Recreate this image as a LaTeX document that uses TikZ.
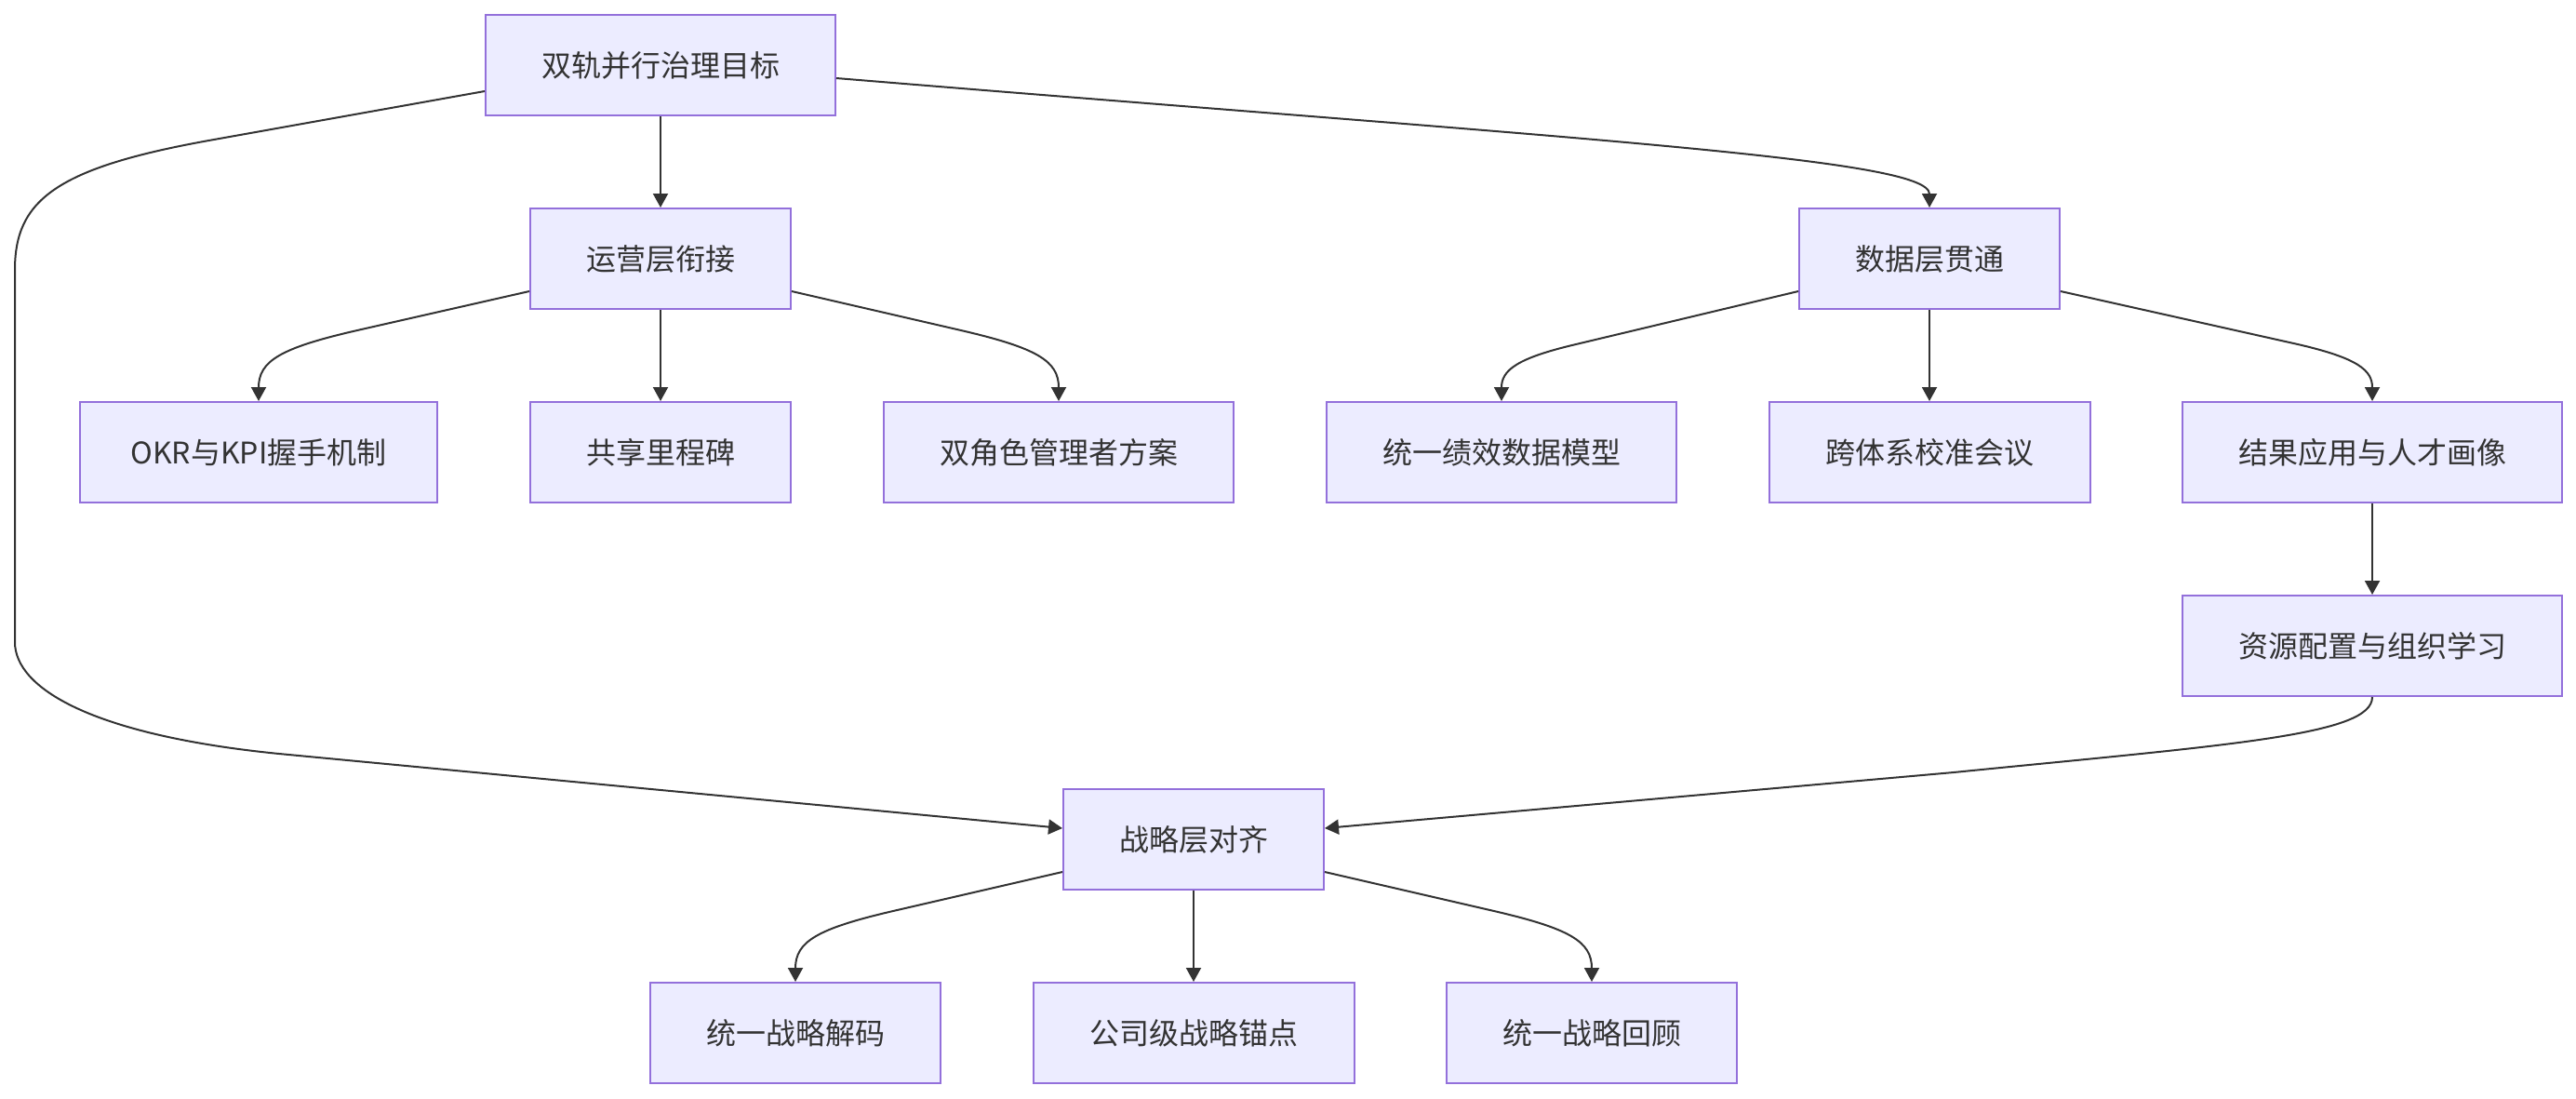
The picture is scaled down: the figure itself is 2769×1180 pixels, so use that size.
\documentclass[tikz,border=0pt]{standalone}
\usepackage{fontspec}
\setmainfont{Noto Sans CJK SC}
\usetikzlibrary{arrows.meta,calc}
\definecolor{boxfill}{HTML}{ECECFF}
\definecolor{boxline}{HTML}{9370DB}
\definecolor{ink}{HTML}{333333}
\tikzset{
  box/.style={draw=boxline, fill=boxfill, line width=1pt, minimum height=54pt, inner sep=0pt, text=ink, font=\fontsize{16pt}{19pt}\selectfont},
  arr/.style={draw=ink, line width=1pt, -{Triangle[length=7.5pt,width=8pt]}},
}
\begin{document}
\begin{tikzpicture}[x=0.5pt,y=-0.5pt]
\useasboundingbox (0,0) rectangle (2769,1180);
% row 0
\node[box, minimum width=188pt] (A) at (710,70) {双轨并行治理目标};
% row 1
\node[box, minimum width=140pt] (B) at (710,278) {运营层衔接};
\node[box, minimum width=140pt] (C) at (2074,278) {数据层贯通};
% row 2
\node[box, minimum width=192pt] (D) at (278,486) {OKR与KPI握手机制};
\node[box, minimum width=140pt] (E) at (710,486) {共享里程碑};
\node[box, minimum width=188pt] (F) at (1138,486) {双角色管理者方案};
\node[box, minimum width=188pt] (G) at (1614,486) {统一绩效数据模型};
\node[box, minimum width=172.5pt] (H) at (2074,486) {跨体系校准会议};
\node[box, minimum width=204pt] (I) at (2550,486) {结果应用与人才画像};
% row 3
\node[box, minimum width=204pt] (J) at (2550,694) {资源配置与组织学习};
% row 4
\node[box, minimum width=140pt] (K) at (1283,902) {战略层对齐};
% row 5
\node[box, minimum width=156pt] (L) at (855,1110) {统一战略解码};
\node[box, minimum width=172.5pt] (M) at (1283,1110) {公司级战略锚点};
\node[box, minimum width=156pt] (N) at (1711,1110) {统一战略回顾};

% edges
\draw[arr] (A.south) -- (B.north);
\draw[arr] ([yshift=-7pt]A.east) .. controls (1700,150) and (2074,170) .. (C.north);
\draw[arr] ([yshift=-14pt]A.west) -- (230,150) .. controls (60,180) and (16,215) .. (16,290) -- (16,690) .. controls (16,740) and (100,790) .. (300,810) -- ([yshift=6pt]K.west);

\draw[arr] ([yshift=10pt]B.south west) -- (384,355) .. controls (301,374) and (278,388) .. (D.north);
\draw[arr] (B.south) -- (E.north);
\draw[arr] ([yshift=10pt]B.south east) -- (1033,355) .. controls (1115,374) and (1138,388) .. (F.north);

\draw[arr] ([yshift=10pt]C.south west) -- (1694,370) .. controls (1630,385) and (1614,398) .. (G.north);
\draw[arr] (C.south) -- (H.north);
\draw[arr] ([yshift=10pt]C.south east) -- (2470,370) .. controls (2535,385) and (2550,398) .. (I.north);

\draw[arr] (I.south) -- (J.north);
\draw[arr] (J.south) .. controls (2550,790) and (2400,800) .. (2100,830) -- ([yshift=6pt]K.east);

\draw[arr] ([yshift=10pt]K.south west) -- (960,979) .. controls (878,998) and (855,1012) .. (L.north);
\draw[arr] (K.south) -- (M.north);
\draw[arr] ([yshift=10pt]K.south east) -- (1606,979) .. controls (1688,998) and (1711,1012) .. (N.north);
\end{tikzpicture}
\end{document}
